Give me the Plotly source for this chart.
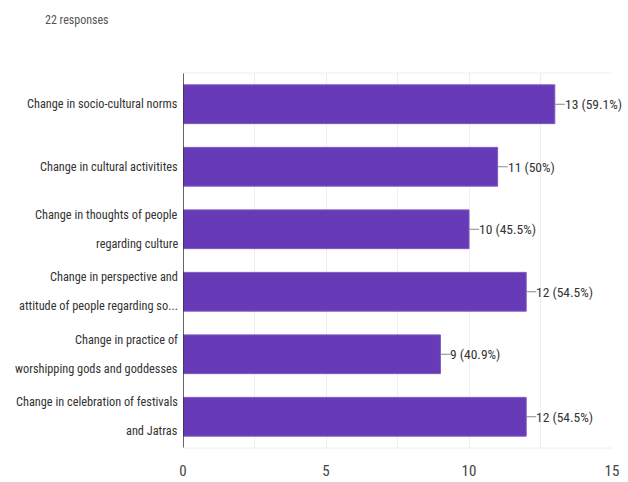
import plotly.graph_objects as go

categories = [
    "Change in socio-cultural norms",
    "Change in cultural activitites",
    "Change in thoughts of people<br>regarding culture",
    "Change in perspective and<br>attitude of people regarding so...",
    "Change in practice of<br>worshipping gods and goddesses",
    "Change in celebration of festivals<br>and Jatras",
]
counts = [13, 11, 10, 12, 9, 12]
percents = ["59.1%", "50%", "45.5%", "54.5%", "40.9%", "54.5%"]
x_ticks = [0, 5, 10, 15]

FONT = "Liberation Sans Narrow, Arial Narrow, Roboto Condensed, Liberation Sans, sans-serif"
TXT = "#333333"

L, R, T, B = 183, 16, 73, 34
W, H = 628, 482

fig = go.Figure()
fig.add_trace(go.Bar(
    y=categories, x=counts, orientation="h",
    marker=dict(color="#673AB7", line=dict(color="#7e57c2", width=1)),
    width=0.62, hoverinfo="skip",
))

lead = 0.35
for c, n, p in zip(categories, counts, percents):
    fig.add_shape(type="line", xref="x", yref="y", x0=n, x1=n + lead, y0=c, y1=c,
                  line=dict(color="#888888", width=1))
    fig.add_annotation(x=n + lead, y=c, xref="x", yref="y", text=f"{n} ({p})",
                       showarrow=False, xanchor="left", xshift=-2,
                       font=dict(family=FONT, size=13.5, color=TXT))

# category labels with the wide line spacing of the original
line_gap = 29
for c in categories:
    lines = c.split("<br>")
    k = len(lines)
    for i, ln in enumerate(lines):
        shift = ((k - 1) / 2 - i) * line_gap
        fig.add_annotation(x=0, y=c, xref="x", yref="y", text=ln,
                           showarrow=False, xanchor="right", yanchor="middle",
                           xshift=-3, yshift=shift,
                           font=dict(family=FONT, size=12.3, color=TXT))

fig.add_annotation(xref="paper", yref="paper",
                   x=(43 - L) / (W - L - R), y=(H - B - 20) / (H - T - B),
                   text="22 responses", showarrow=False,
                   xanchor="left", yanchor="middle",
                   font=dict(family=FONT, size=12, color="#555555"))

fig.update_layout(
    width=W, height=H,
    margin=dict(l=L, r=R, t=T, b=B),
    paper_bgcolor="white", plot_bgcolor="white",
    showlegend=False,
    font=dict(family=FONT, size=13, color=TXT),
)

fig.update_xaxes(range=[0, 15], tickvals=x_ticks, automargin=False,
                 showgrid=True, gridcolor="#eeeeee", gridwidth=1,
                 minor=dict(dtick=2.5, showgrid=True, gridcolor="#eeeeee"),
                 zeroline=False, showline=False, ticks="",
                 tickfont=dict(family=FONT, size=15, color="#444444"),
                 ticklabelstandoff=12, fixedrange=True)
fig.update_yaxes(categoryorder="array", categoryarray=categories[::-1],
                 automargin=False, showticklabels=False,
                 showgrid=False, zeroline=False, showline=False, ticks="",
                 fixedrange=True)

fig.add_shape(type="line", xref="x", yref="paper", x0=0, x1=0, y0=0, y1=1,
              line=dict(color="#333333", width=1.5))
fig.add_shape(type="line", xref="paper", yref="paper", x0=0, x1=1, y0=1, y1=1,
              line=dict(color="#eeeeee", width=1))
fig.add_shape(type="line", xref="paper", yref="paper", x0=0, x1=1, y0=0, y1=0,
              line=dict(color="#eeeeee", width=1))

fig.write_html("out.html")
